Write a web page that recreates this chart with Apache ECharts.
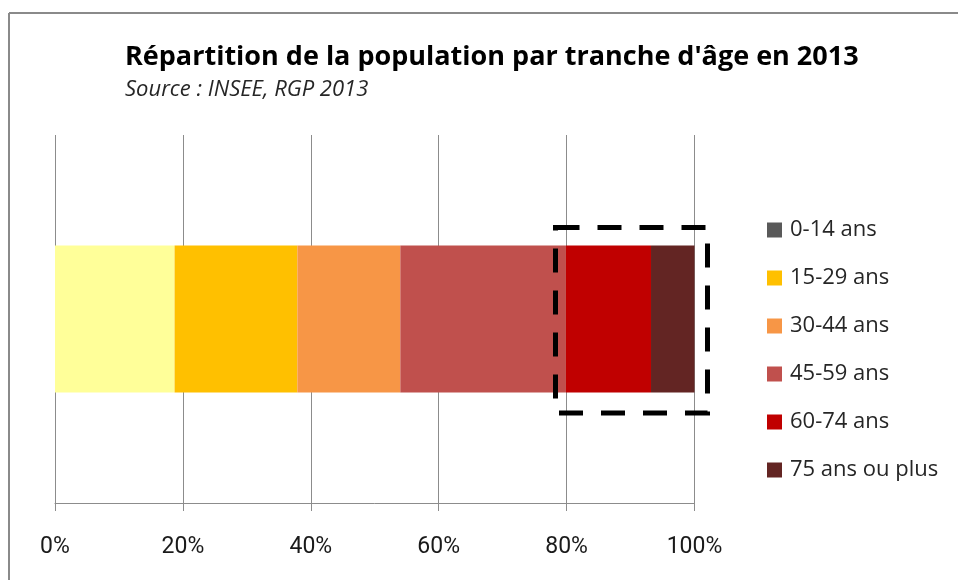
<!DOCTYPE html>
<html>
<head>
<meta charset="utf-8">
<script src="https://cdn.jsdelivr.net/npm/echarts@6/dist/echarts.min.js"></script>
<style>
html,body{margin:0;padding:0;background:#fff;}
#main{width:958px;height:580px;}
</style>
</head>
<body>
<div id="main"></div>
<script>
const categories = ['2013'];
const seriesNames = ['0-14 ans', '15-29 ans', '30-44 ans', '45-59 ans', '60-74 ans', '75 ans ou plus'];
const seriesValues = [18.7, 19.2, 16.1, 25.9, 13.3, 6.8];
const barColors = ['#FFFF99', '#FFC000', '#F79646', '#C0504D', '#C00000', '#632523'];
const legendColors = ['#595959', '#FFC000', '#F79646', '#C0504D', '#C00000', '#632523'];
const tickValues = [0, 20, 40, 60, 80, 100];

const chart = echarts.init(document.getElementById('main'), null, {renderer: 'canvas'});

const series = seriesNames.map((name, i) => ({
  name: name,
  type: 'bar',
  stack: 'total',
  barWidth: 147,
  data: [seriesValues[i]],
  itemStyle: {color: barColors[i]},
  emphasis: {disabled: true}
}));

const option = {
  animation: false,
  backgroundColor: '#ffffff',
  title: {
    text: "Répartition de la population par tranche d'âge en 2013",
    subtext: 'Source : INSEE, RGP 2013',
    left: 120,
    top: 39,
    itemGap: 8,
    textStyle: {fontFamily: 'Open Sans', fontWeight: 'bold', fontSize: 27, color: '#000'},
    subtextStyle: {fontFamily: 'Open Sans', fontStyle: 'italic', fontSize: 22, color: '#262626'}
  },
  legend: {
    orient: 'vertical',
    left: 767,
    top: 218,
    padding: 0,
    itemWidth: 15,
    itemHeight: 15,
    itemGap: 24,
    icon: 'rect',
    textStyle: {fontFamily: 'Open Sans', fontSize: 22, color: '#262626', lineHeight: 24, padding: [0, 0, 0, 3]},
    data: seriesNames.map((n, i) => ({name: n, itemStyle: {color: legendColors[i]}}))
  },
  grid: {left: 55, right: 263.5, top: 135, bottom: 77, containLabel: false},
  xAxis: {
    type: 'value',
    min: tickValues[0],
    max: tickValues[tickValues.length - 1],
    interval: 20,
    axisLine: {show: true, lineStyle: {color: '#8c8c8c', width: 1}},
    axisTick: {show: true, length: 8, lineStyle: {color: '#8c8c8c'}},
    splitLine: {show: true, lineStyle: {color: '#8c8c8c', width: 1}},
    axisLabel: {formatter: '{value}%', margin: 33, fontFamily: 'Roboto', fontSize: 23, color: '#1a1a1a'}
  },
  yAxis: {
    type: 'category',
    data: categories,
    axisLine: {show: false},
    axisTick: {show: false},
    axisLabel: {show: false}
  },
  series: series,
  graphic: [
    {type: 'line', shape: {x1: 9, y1: 13, x2: 958, y2: 13}, style: {stroke: '#8a8a8a', lineWidth: 2}, z: 100},
    {type: 'line', shape: {x1: 9, y1: 13, x2: 9, y2: 580}, style: {stroke: '#8a8a8a', lineWidth: 2}, z: 100},
    {type: 'rect', shape: {x: 555.5, y: 227.5, width: 152, height: 185.5},
     style: {fill: null, stroke: '#000', lineWidth: 5, lineDash: [24, 18]}, z: 100}
  ]
};
chart.setOption(option);
</script>
</body>
</html>
